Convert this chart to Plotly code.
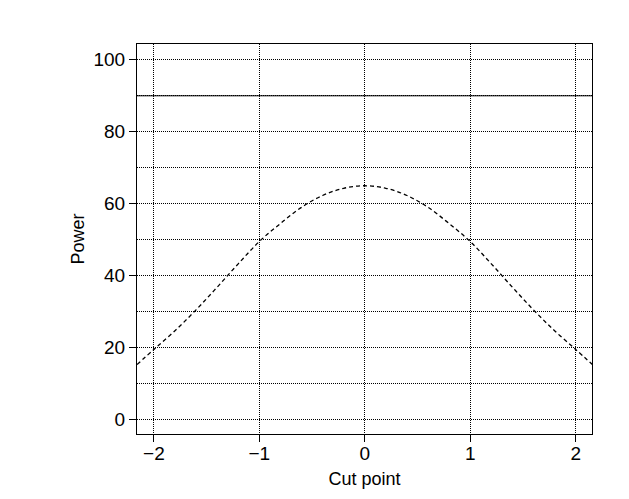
import plotly.graph_objects as go

cut_points = [-2.16, -2.0, -1.8, -1.6, -1.4, -1.2, -1.0, -0.8, -0.6, -0.4, -0.2, 0.0,
              0.2, 0.4, 0.6, 0.8, 1.0, 1.2, 1.4, 1.6, 1.8, 2.0, 2.16]
power = [15.3, 19.5, 24.7, 30.5, 36.8, 43.3, 49.5, 54.5, 59.0, 62.3, 64.3, 65.0,
         64.3, 62.3, 59.0, 54.5, 49.5, 43.3, 36.8, 30.5, 24.7, 19.5, 15.3]
target_power = 90
x_ticks = [-2, -1, 0, 1, 2]
y_ticks = [0, 20, 40, 60, 80, 100]

fig = go.Figure()
fig.add_trace(go.Scatter(
    x=cut_points, y=power, mode="lines", line_shape="spline",
    line=dict(color="black", width=1.3, dash="4px,3px"),
    showlegend=False, hoverinfo="skip"))
fig.add_shape(type="line", xref="paper", x0=0, x1=1, yref="y", y0=target_power, y1=target_power,
              line=dict(color="black", width=1))

fam = "Liberation Sans, Arial, sans-serif"
tickfont = dict(family=fam, size=19, color="black")
titlefont = dict(family=fam, size=18, color="black")
grid = dict(showgrid=True, gridcolor="black", griddash="1px,1px", gridwidth=1, zeroline=False)
fig.update_layout(
    width=629, height=499,
    margin=dict(l=129, r=45, t=36, b=73),
    paper_bgcolor="white", plot_bgcolor="white",
    font=dict(family=fam, size=18, color="black"),
    xaxis=dict(range=[-2.16, 2.155], tickvals=x_ticks, showline=True, mirror=True,
               linecolor="black", linewidth=1.2, ticks="outside", ticklen=7, tickcolor="black",
               tickfont=tickfont, ticklabelstandoff=-5,
               title=dict(text="Cut point", standoff=9, font=titlefont), **grid),
    yaxis=dict(range=[-4, 104.4], tickvals=y_ticks, showline=True, mirror=True,
               linecolor="black", linewidth=1.2, ticks="outside", ticklen=7, tickcolor="black",
               tickfont=tickfont,
               minor=dict(dtick=10, tick0=0, showgrid=True, gridcolor="black", griddash="1px,1px", gridwidth=1),
               title=dict(text="Power", standoff=4, font=titlefont), **grid),
)
fig.write_html("out.html")
